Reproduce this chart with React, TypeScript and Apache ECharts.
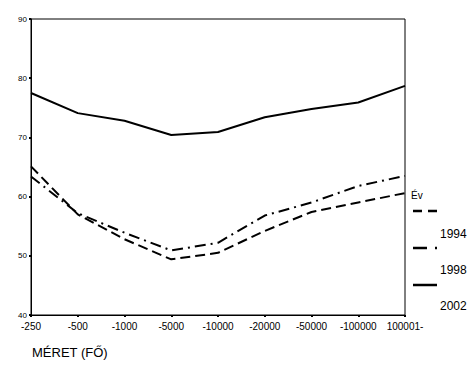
import React, { useEffect, useRef } from "react";
import * as echarts from "echarts";

const categories = ["-250", "-500", "-1000", "-5000", "-10000", "-20000", "-50000", "-100000", "100001-"];
const years = ["1994", "1998", "2002"];
const values1994 = [65.1, 57.0, 52.8, 49.4, 50.5, 54.2, 57.4, 59.0, 60.6];
const values1998 = [63.4, 57.2, 53.9, 50.9, 52.2, 56.8, 59.0, 61.8, 63.5];
const values2002 = [77.5, 74.1, 72.8, 70.4, 70.9, 73.4, 74.8, 75.9, 78.7];
const yTicks = [40, 50, 60, 70, 80, 90];

const FONT = "Liberation Sans, Arial, sans-serif";

export default function App() {
  const ref = useRef<HTMLDivElement>(null);
  useEffect(() => {
    if (!ref.current) return;
    const chart = echarts.init(ref.current, null, { renderer: "svg" });
    const dashPatterns: any[] = [[10, 5], [11, 5, 2, 5], "solid"];
    const seriesData = [values1994, values1998, values2002];
    chart.setOption({
      animation: false,
      backgroundColor: "#ffffff",
      grid: {
        left: 31,
        right: 67,
        top: 19,
        bottom: 62,
        show: true,
        borderColor: "#000",
        borderWidth: 1,
        backgroundColor: "transparent",
      },
      xAxis: {
        type: "category",
        data: categories,
        boundaryGap: false,
        axisLine: { lineStyle: { color: "#000", width: 1 } },
        axisTick: { show: true, interval: 0, alignWithLabel: true, length: 2, lineStyle: { color: "#000", width: 2 } },
        axisLabel: { interval: 0, hideOverlap: false, color: "#000", fontFamily: FONT, fontSize: 10, margin: 6 },
        splitLine: { show: false },
      },
      yAxis: {
        type: "value",
        min: yTicks[0],
        max: yTicks[yTicks.length - 1],
        interval: 10,
        axisLine: { show: true, lineStyle: { color: "#000", width: 1 } },
        axisTick: { show: true, inside: false, length: 2, lineStyle: { color: "#000", width: 2 } },
        axisLabel: { color: "#000", fontFamily: FONT, fontSize: 8, margin: 4 },
        splitLine: { show: false },
      },
      series: years.map((y, i) => ({
        name: y,
        type: "line",
        data: seriesData[i],
        symbol: "none",
        lineStyle: { color: "#000", width: 2, type: dashPatterns[i] },
      })),
      graphic: [
        { type: "text", left: 32, top: 346, style: { text: "MÉRET (FŐ)", font: `13px ${FONT}`, fill: "#000" } },
        { type: "text", left: 411, top: 190, style: { text: "Év", font: `10px ${FONT}`, fill: "#000" } },
        { type: "line", shape: { x1: 413, y1: 211, x2: 437, y2: 211 }, style: { stroke: "#000", lineWidth: 2.5, lineDash: [9, 6] } },
        { type: "text", left: 440, top: 228, style: { text: "1994", font: `12px ${FONT}`, fill: "#000" } },
        { type: "line", shape: { x1: 413, y1: 248, x2: 441, y2: 248 }, style: { stroke: "#000", lineWidth: 2.5, lineDash: [14, 8, 2, 8] } },
        { type: "text", left: 440, top: 264, style: { text: "1998", font: `12px ${FONT}`, fill: "#000" } },
        { type: "line", shape: { x1: 413, y1: 285, x2: 437, y2: 285 }, style: { stroke: "#000", lineWidth: 2.5 } },
        { type: "text", left: 440, top: 300, style: { text: "2002", font: `12px ${FONT}`, fill: "#000" } },
      ],
    });
    return () => chart.dispose();
  }, []);
  return <div ref={ref} style={{ width: 472, height: 377, position: "absolute", left: 0, top: 0 }} />;
}
